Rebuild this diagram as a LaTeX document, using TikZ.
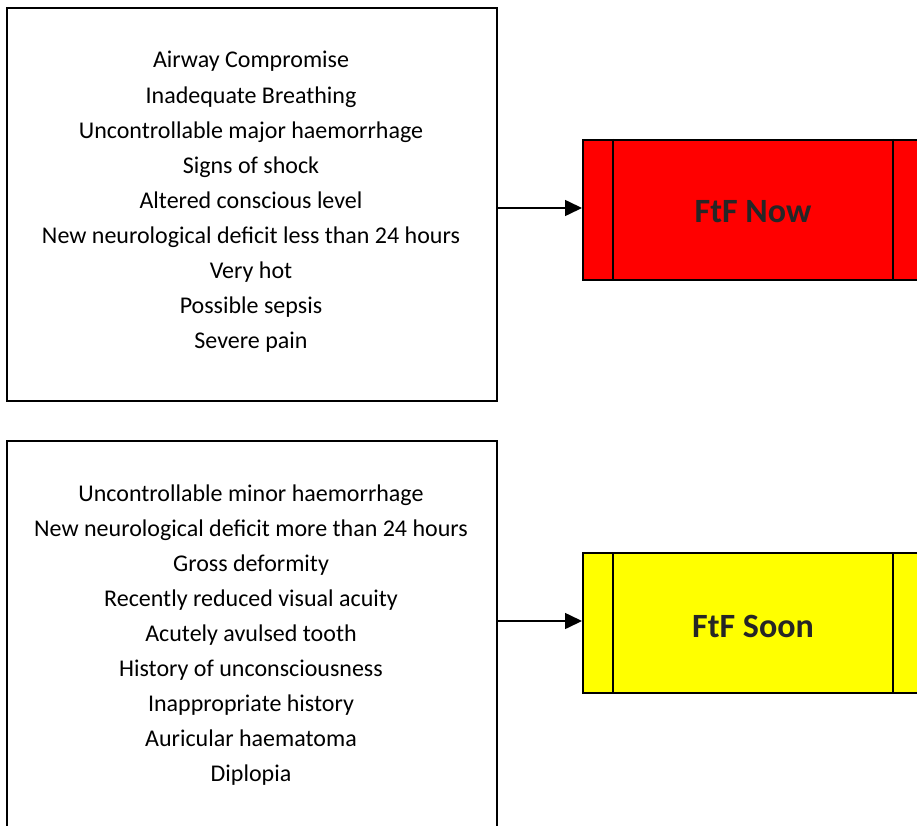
\documentclass[tikz,border=0pt]{standalone}
\usepackage{fontspec}
\setmainfont{Carlito}
\usetikzlibrary{arrows.meta}
\definecolor{ftftext}{HTML}{262626}
\definecolor{nowred}{HTML}{FF0000}
\definecolor{soonyellow}{HTML}{FFFF00}
\tikzset{
  x=1pt, y=-1pt,
  listbox/.style={draw=black, line width=2pt, fill=white, minimum width=490pt, minimum height=392pt, inner sep=0pt},
  listtext/.style={align=center, font=\fontsize{24}{35.1}\selectfont, text=black, inner sep=0pt},
  triage/.style={draw=black, line width=2pt, minimum width=340pt, minimum height=140pt, inner sep=0pt},
  triagetext/.style={inner sep=0pt, font=\fontsize{34}{40}\selectfont\bfseries, text=ftftext},
  divider/.style={draw=black, line width=2pt},
  link/.style={draw=black, line width=1.6pt, -{Triangle[length=17pt,width=16pt]}}
}
\begin{document}
\begin{tikzpicture}
\useasboundingbox (0,0) rectangle (917,826);
\clip (0,0) rectangle (917,826);

% urgent criteria
\node[listbox] (urgent) at (252,204.5) {};
\node[listtext] (urgenttext) at (251,202) {Airway Compromise\\Inadequate Breathing\\Uncontrollable major haemorrhage\\Signs of shock\\Altered conscious level\\New neurological deficit less than 24 hours\\Very hot\\Possible sepsis\\Severe pain};

% less urgent criteria
\node[listbox] (soon) at (252,637) {};
\node[listtext] (soontext) at (251,635) {Uncontrollable minor haemorrhage\\New neurological deficit more than 24 hours\\Gross deformity\\Recently reduced visual acuity\\Acutely avulsed tooth\\History of unconsciousness\\Inappropriate history\\Auricular haematoma\\Diplopia};

% outcomes
\node[triage, fill=nowred] (now) at (753,210) {};
\node[triage, fill=soonyellow] (later) at (753,623) {};
\node[triagetext] (nowlabel) at ([yshift=-2pt]now.center) {FtF Now};
\node[triagetext] (laterlabel) at ([yshift=-3pt]later.center) {FtF Soon};
\foreach \b in {now, later} {
  \draw[divider] ([xshift=31pt]\b.north west) -- ([xshift=31pt]\b.south west);
  \draw[divider] ([xshift=-31pt]\b.north east) -- ([xshift=-31pt]\b.south east);
}

% connectors
\draw[link] (urgent.east |- 0,208) -- (now.west |- 0,208);
\draw[link] (soon.east |- 0,621) -- (later.west |- 0,621);
\end{tikzpicture}
\end{document}
